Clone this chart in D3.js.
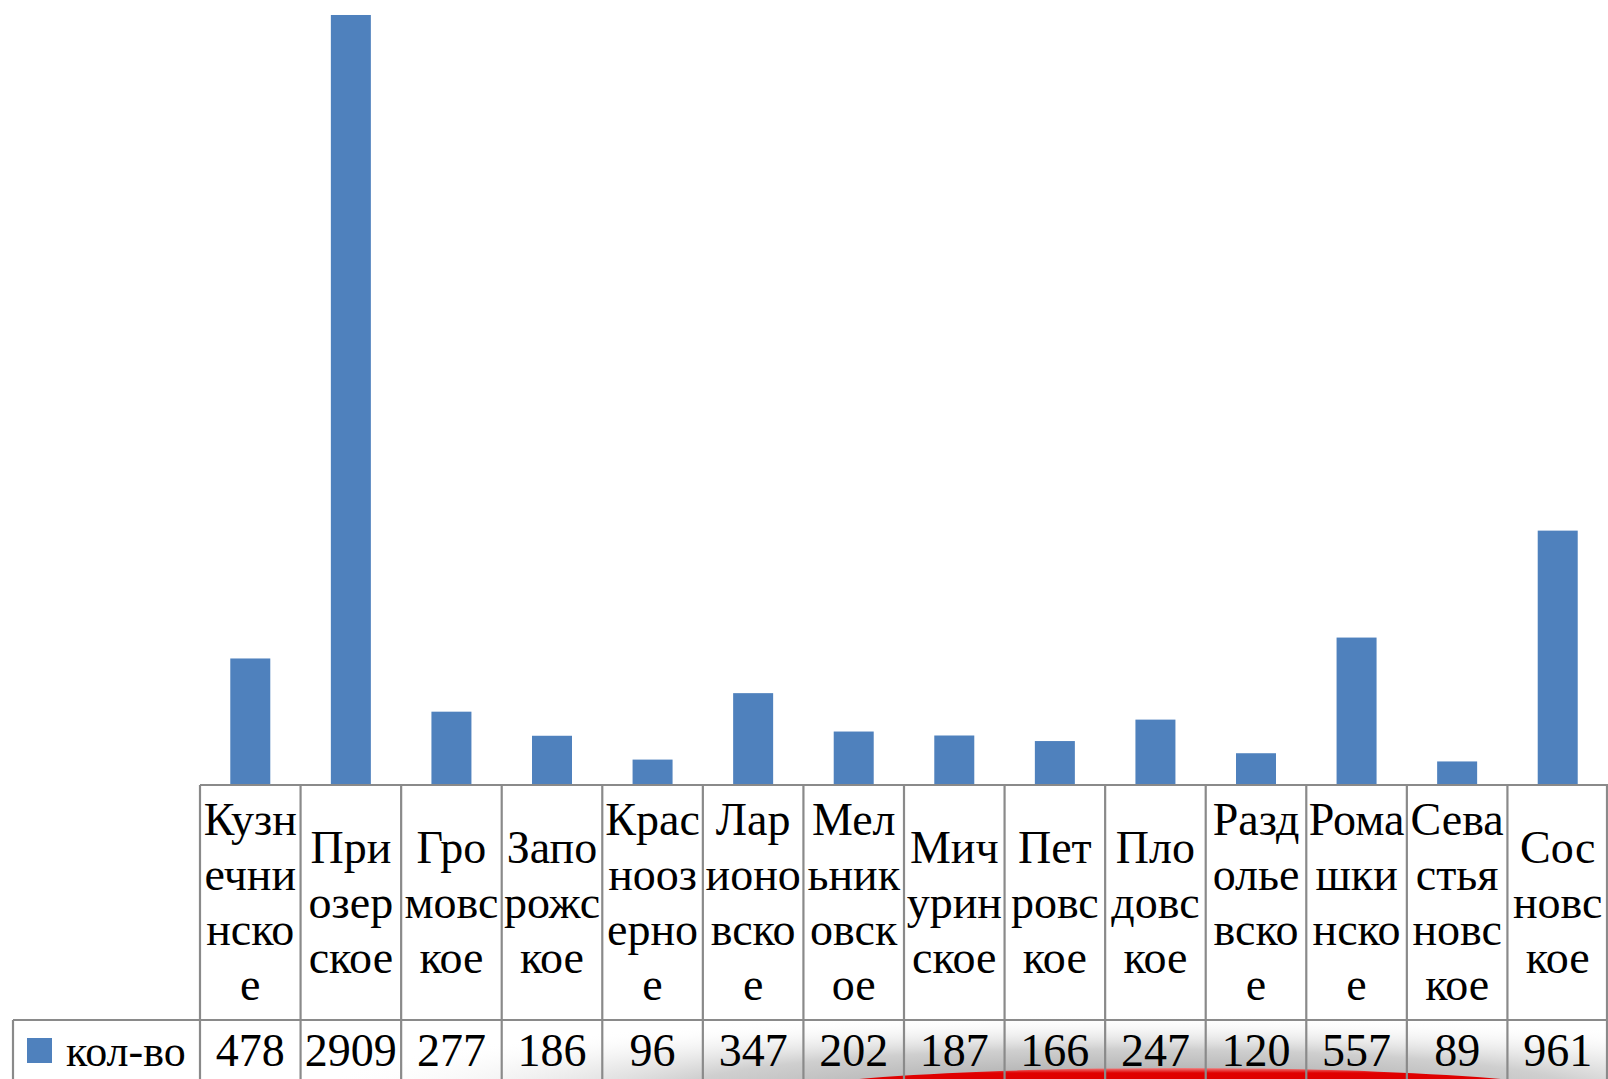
<!DOCTYPE html>
<html>
<head>
<meta charset="utf-8">
<script src="https://cdn.jsdelivr.net/npm/d3@7"></script>
<style>
  html, body { margin: 0; padding: 0; background: #ffffff; overflow: hidden; }
  svg { display: block; }
  .cell-text { font-family: "Liberation Serif", "Times New Roman", serif; font-size: 46px; fill: #000; }
</style>
</head>
<body>
<div id="chart"></div>
<script>
// data
const categories = [
  "Кузнечнинское", "Приозерское", "Громовское", "Запорожское", "Красноозерное",
  "Ларионовское", "Мельниковское", "Мичуринское", "Петровское", "Пловдовское",
  "Раздольевское", "Ромашкинское", "Севастьяновское", "Сосновское"
];
// how the names are wrapped in the table header
const categoryLines = [
  ["Кузн", "ечни", "нско", "е"],
  ["При", "озер", "ское"],
  ["Гро", "мовс", "кое"],
  ["Запо", "рожс", "кое"],
  ["Крас", "нооз", "ерно", "е"],
  ["Лар", "ионо", "вско", "е"],
  ["Мел", "ьник", "овск", "ое"],
  ["Мич", "урин", "ское"],
  ["Пет", "ровс", "кое"],
  ["Пло", "довс", "кое"],
  ["Разд", "олье", "вско", "е"],
  ["Рома", "шки", "нско", "е"],
  ["Сева", "стья", "новс", "кое"],
  ["Сос", "новс", "кое"]
];
const seriesName = "кол-во";
const values = [478, 2909, 277, 186, 96, 347, 202, 187, 166, 247, 120, 557, 89, 961];

const width = 1608;
const height = 1079;
const plotLeft = 200;
const plotRight = 1608;
const plotBottom = 785;
const headerBottom = 1020;
const tableLeft = 13;
const barWidth = 40;
const lineGap = 55;
const barColor = "#4f81bd";
const gridColor = "#8a8a8a";

const svg = d3.select("#chart").append("svg")
  .attr("width", width)
  .attr("height", height);

const defs = svg.append("defs");
const shade = defs.append("radialGradient")
  .attr("id", "shade")
  .attr("cx", "50%").attr("cy", "50%").attr("r", "50%");
shade.append("stop").attr("offset", "0%").attr("stop-color", "#9c9c9c");
shade.append("stop").attr("offset", "55%").attr("stop-color", "#cfcfcf");
shade.append("stop").attr("offset", "100%").attr("stop-color", "#ffffff").attr("stop-opacity", 0);

const redFade = defs.append("linearGradient")
  .attr("id", "redFade")
  .attr("x1", 0).attr("y1", 0).attr("x2", 0).attr("y2", 1);
redFade.append("stop").attr("offset", "0%").attr("stop-color", "#f08080");
redFade.append("stop").attr("offset", "8%").attr("stop-color", "#e00000");
redFade.append("stop").attr("offset", "100%").attr("stop-color", "#d40000");

// slide background: grey shadow and red arc at the bottom
svg.append("ellipse")
  .attr("cx", 1130).attr("cy", 1092)
  .attr("rx", 820).attr("ry", 78)
  .attr("fill", "url(#shade)");
svg.append("ellipse")
  .attr("cx", 1180).attr("cy", 1099)
  .attr("rx", 420).attr("ry", 31)
  .attr("fill", "url(#redFade)");

// scales
const x = d3.scaleBand()
  .domain(categories)
  .range([plotLeft, plotRight])
  .paddingInner(0)
  .paddingOuter(0);

const y = d3.scaleLinear()
  .domain([0, 3000])
  .range([plotBottom, plotBottom - 3000 * 0.2647]);

// bars
svg.append("g")
  .selectAll("rect")
  .data(values)
  .join("rect")
  .attr("x", (d, i) => x(categories[i]) + (x.bandwidth() - barWidth) / 2)
  .attr("y", d => y(d))
  .attr("width", barWidth)
  .attr("height", d => y(0) - y(d))
  .attr("fill", barColor);

// data table grid
const grid = svg.append("g")
  .attr("stroke", gridColor)
  .attr("stroke-width", 2.2)
  .attr("fill", "none");

grid.append("line")
  .attr("x1", plotLeft).attr("x2", plotRight + 10)
  .attr("y1", plotBottom).attr("y2", plotBottom);
grid.append("line")
  .attr("x1", tableLeft).attr("x2", plotRight + 10)
  .attr("y1", headerBottom).attr("y2", headerBottom);
grid.append("line")
  .attr("x1", tableLeft).attr("x2", tableLeft)
  .attr("y1", headerBottom).attr("y2", height + 5);

const edges = categories.map(c => x(c)).concat([plotRight - 1]);
grid.selectAll(".edge")
  .data(edges)
  .join("line")
  .attr("class", "edge")
  .attr("x1", d => d).attr("x2", d => d)
  .attr("y1", plotBottom).attr("y2", height + 5);

// header labels
const headerMid = 917.5;
const labels = svg.append("g").attr("class", "cell-text");
categoryLines.forEach((lines, i) => {
  const cx = x(categories[i]) + x.bandwidth() / 2;
  const t = labels.append("text")
    .attr("class", "cell-text")
    .attr("text-anchor", "middle");
  lines.forEach((ln, j) => {
    t.append("tspan")
      .attr("x", cx)
      .attr("y", headerMid + (j - (lines.length - 1) / 2) * lineGap)
      .text(ln);
  });
});

// value row
svg.append("g")
  .selectAll("text")
  .data(values)
  .join("text")
  .attr("class", "cell-text")
  .attr("text-anchor", "middle")
  .attr("x", (d, i) => x(categories[i]) + x.bandwidth() / 2)
  .attr("y", 1066)
  .text(d => d);

// legend key in the row header
svg.append("rect")
  .attr("x", 27).attr("y", 1038)
  .attr("width", 25).attr("height", 25)
  .attr("fill", barColor);
svg.append("text")
  .attr("class", "cell-text")
  .attr("x", 66).attr("y", 1066)
  .style("font-size", "44px")
  .text(seriesName);
</script>
</body>
</html>
